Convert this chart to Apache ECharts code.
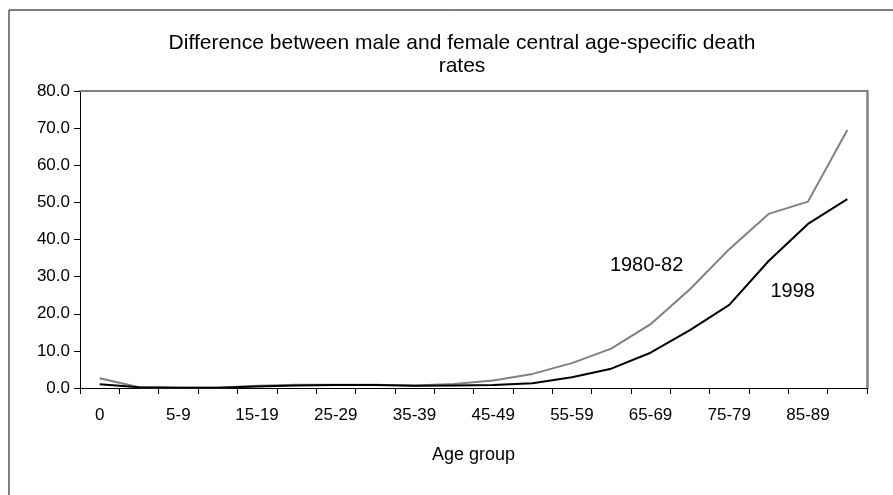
<!DOCTYPE html>
<html style="height: 100%">
<head>
<meta charset="utf-8">
<script src="https://cdn.jsdelivr.net/npm/echarts@6/dist/echarts.min.js"></script>
</head>
<body style="height: 100%; margin: 0; overflow: hidden; background: #fff;">
<div id="container" style="width: 893px; height: 495px;"></div>
<script>
// age groups on the x axis
var ageGroups = ['0', '1-4', '5-9', '10-14', '15-19', '20-24', '25-29', '30-34', '35-39', '40-44',
  '45-49', '50-54', '55-59', '60-64', '65-69', '70-74', '75-79', '80-84', '85-89', '90+'];
// male minus female death rates
var rates1980 = [2.6, 0.2, 0.1, 0.1, 0.6, 0.9, 0.9, 0.9, 0.7, 1.1,
  2.0, 3.8, 6.7, 10.6, 17.2, 26.6, 37.4, 46.9, 50.2, 69.5];
var rates1998 = [1.0, 0.2, 0.1, 0.1, 0.4, 0.7, 0.8, 0.8, 0.6, 0.7,
  0.8, 1.3, 2.9, 5.2, 9.5, 15.6, 22.4, 34.2, 44.2, 50.9];
var yTicks = [0, 80, 10];

var font = '"Liberation Sans", Arial, sans-serif';
var chart = echarts.init(document.getElementById('container'));
chart.setOption({
  animation: false,
  backgroundColor: '#fff',
  title: {
    text: 'Difference between male and female central age-specific death\nrates',
    left: 457,
    top: 27,
    textAlign: 'center',
    textStyle: { fontFamily: font, fontSize: 21, fontWeight: 'normal', color: '#000', lineHeight: 23 }
  },
  graphic: [{
    type: 'rect',
    shape: { x: 9, y: 10, width: 900, height: 500 },
    style: { fill: null, stroke: '#000', lineWidth: 1 }
  }],
  grid: { left: 80, right: 26, top: 91, bottom: 107 },
  xAxis: [{
    type: 'category',
    data: ageGroups,
    boundaryGap: true,
    axisLine: { lineStyle: { color: '#000', width: 1 } },
    axisTick: { show: true, interval: 0, length: 6, lineStyle: { color: '#000' } },
    axisLabel: { interval: 1, margin: 19, fontFamily: font, fontSize: 17, color: '#000' },
    name: 'Age group',
    nameLocation: 'middle',
    nameGap: 58,
    nameTextStyle: { fontFamily: font, fontSize: 18, color: '#000' }
  }, {
    type: 'category',
    data: ageGroups,
    position: 'top',
    axisLine: { onZero: false, lineStyle: { color: '#808080', width: 2 } },
    axisTick: { show: false },
    axisLabel: { show: false }
  }],
  yAxis: [{
    type: 'value',
    min: yTicks[0],
    max: yTicks[1],
    interval: yTicks[2],
    splitLine: { show: false },
    axisLine: { show: true, lineStyle: { color: '#000', width: 1 } },
    axisTick: { show: true, length: 6, lineStyle: { color: '#000' } },
    axisLabel: {
      margin: 10, fontFamily: font, fontSize: 17, color: '#000',
      formatter: function (v) { return v.toFixed(1); }
    }
  }, {
    type: 'value',
    position: 'right',
    min: yTicks[0],
    max: yTicks[1],
    interval: yTicks[2],
    splitLine: { show: false },
    axisLine: { show: true, onZero: false, lineStyle: { color: '#808080', width: 2.5 } },
    axisTick: { show: false },
    axisLabel: { show: false }
  }],
  series: [{
    name: '1980-82',
    type: 'line',
    data: rates1980,
    showSymbol: false,
    symbol: 'none',
    lineStyle: { color: '#808080', width: 2 },
    markPoint: {
      symbol: 'circle',
      symbolSize: 0,
      label: { show: true, position: 'inside', offset: [-4, 0], formatter: '1980-82', fontFamily: font, fontSize: 20, color: '#000' },
      data: [{ coord: ['65-69', 33.1] }]
    }
  }, {
    name: '1998',
    type: 'line',
    data: rates1998,
    showSymbol: false,
    symbol: 'none',
    lineStyle: { color: '#000', width: 2 },
    markPoint: {
      symbol: 'circle',
      symbolSize: 0,
      label: { show: true, position: 'inside', offset: [24, 0], formatter: '1998', fontFamily: font, fontSize: 20, color: '#000' },
      data: [{ coord: ['80-84', 25.9] }]
    }
  }]
});
</script>
</body>
</html>
